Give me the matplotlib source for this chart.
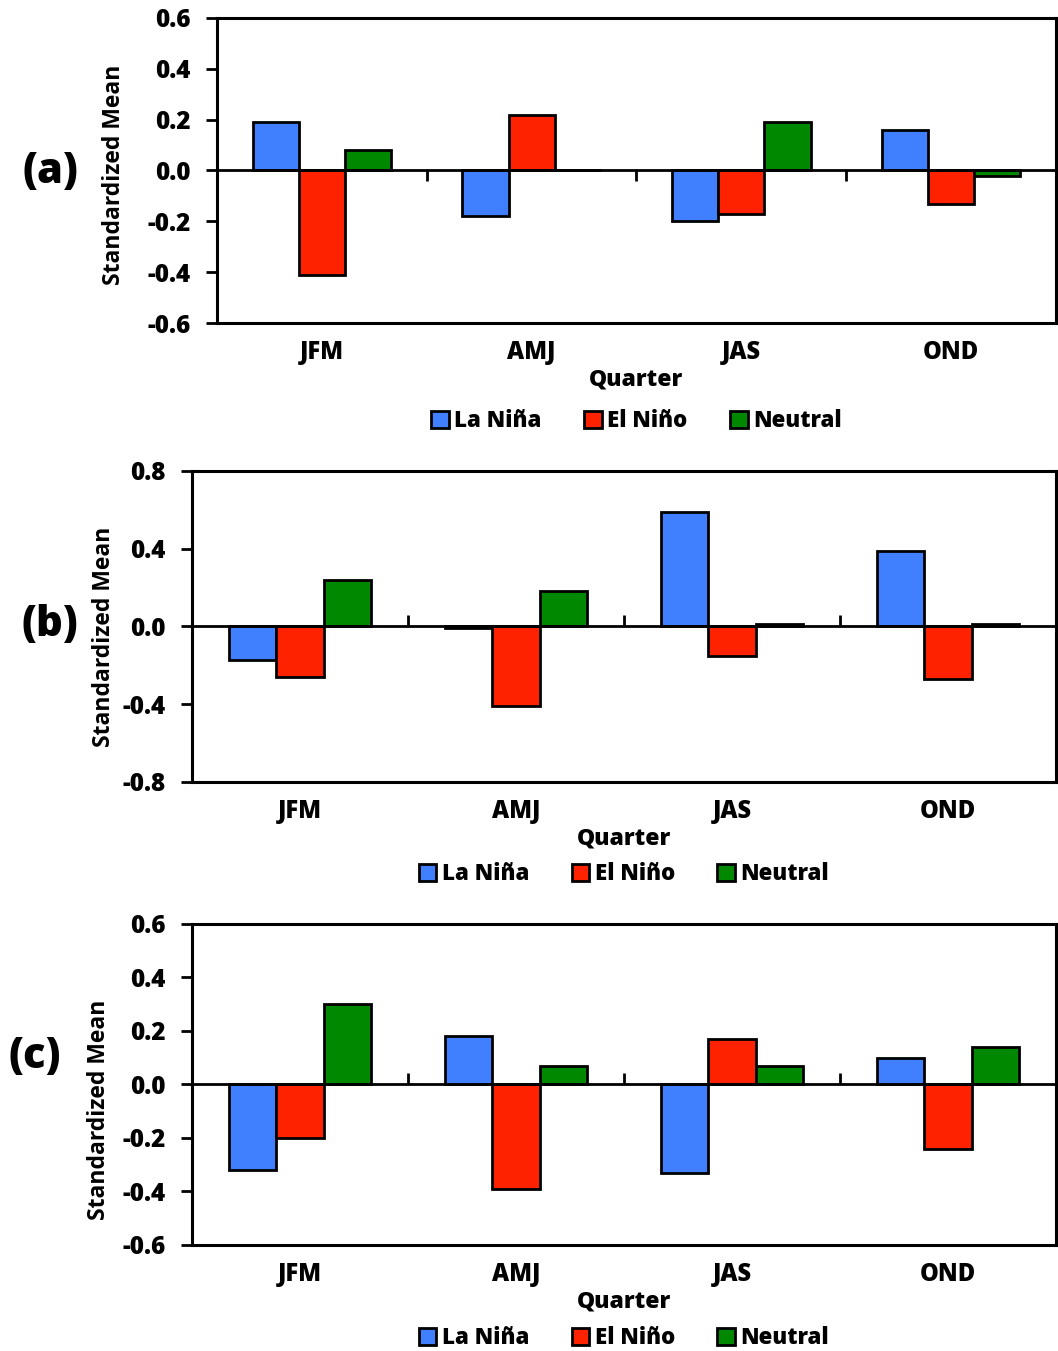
import matplotlib.pyplot as plt
import numpy as np

quarters = ["JFM", "AMJ", "JAS", "OND"]
series = ["La Niña", "El Niño", "Neutral"]
colors = ["#4080FF", "#FF2200", "#008800"]

# standardized means, one list per panel
a_lanina = [0.19, -0.18, -0.20, 0.16]
a_elnino = [-0.41, 0.22, -0.17, -0.13]
a_neutral = [0.08, 0.0, 0.19, -0.02]

b_lanina = [-0.175, -0.01, 0.59, 0.39]
b_elnino = [-0.26, -0.41, -0.15, -0.27]
b_neutral = [0.24, 0.18, 0.015, 0.015]

c_lanina = [-0.32, 0.18, -0.33, 0.10]
c_elnino = [-0.20, -0.39, 0.17, -0.24]
c_neutral = [0.30, 0.07, 0.07, 0.14]

a_ticks = [-0.6, -0.4, -0.2, 0.0, 0.2, 0.4, 0.6]
b_ticks = [-0.8, -0.4, 0.0, 0.4, 0.8]
c_ticks = [-0.6, -0.4, -0.2, 0.0, 0.2, 0.4, 0.6]

plt.rcParams['font.family'] = ['Open Sans', 'DejaVu Sans']
W, H = 1058, 1351
fw = "heavy"

fig = plt.figure(figsize=(W / 100, H / 100), dpi=100)

# (label, data, yticks, axes rect, ylabel coords, tag position px, tick marker, legend offset px)
panels = [
    ("(a)", [a_lanina, a_elnino, a_neutral], a_ticks, [0.2051, 0.7609, 0.7930, 0.2258],
     (-0.108, 0.485), (50, 172), 3, 98),
    ("(b)", [b_lanina, b_elnino, b_neutral], b_ticks, [0.1815, 0.4212, 0.8166, 0.2302],
     (-0.088, 0.466), (50, 625), 2, 92),
    ("(c)", [c_lanina, c_elnino, c_neutral], c_ticks, [0.1815, 0.0785, 0.8166, 0.2376],
     (-0.094, 0.42), (35, 1057), 2, 93),
]

x = np.arange(len(quarters))
w = 0.22

for tag, vals, yt, rect, ylab_pos, tag_pos, tickmark, leg_off in panels:
    ax = fig.add_axes(rect)
    for i, v in enumerate(vals):
        ax.bar(x + (i - 1) * w, v, w, color=colors[i], edgecolor="black",
               linewidth=2, label=series[i], zorder=3)
    ax.axhline(0, color="black", linewidth=2, zorder=4)
    bounds = np.arange(len(quarters) + 1) - 0.5
    ax.plot(bounds[1:], np.zeros(len(bounds) - 1), linestyle="none",
            marker=tickmark, markersize=8, markeredgewidth=2, color="black",
            zorder=4, clip_on=False)
    ax.set_xlim(-0.5, len(quarters) - 0.5)
    ax.set_ylim(yt[0], yt[-1])
    ax.set_yticks(yt)
    ax.set_yticklabels(["%.1f" % t for t in yt], fontsize=17.5, fontweight=fw)
    ax.set_xticks(x)
    ax.set_xticklabels(quarters, fontsize=17, fontweight=fw)
    ax.tick_params(axis="x", length=0, pad=12)
    ax.tick_params(axis="y", length=8, width=2, pad=11)
    for s in ax.spines.values():
        s.set_linewidth(2.2)
    ax.set_xlabel("Quarter", fontsize=16.5, fontweight=fw, labelpad=2)
    ax.set_ylabel("Standardized Mean", fontsize=16.5, fontweight="bold")
    ax.yaxis.set_label_coords(*ylab_pos)
    ax_h = rect[3] * H
    ax.legend(loc="center", bbox_to_anchor=(0.5, -leg_off / ax_h), ncol=3,
              frameon=False, prop={"size": 16, "weight": fw},
              handlelength=0.8, handleheight=0.8, handletextpad=0.25,
              columnspacing=1.9)
    fig.text(tag_pos[0] / W, 1 - tag_pos[1] / H, tag, fontsize=30,
             fontweight=fw, ha="center", va="center")

fig.savefig("out.png", dpi=100)
